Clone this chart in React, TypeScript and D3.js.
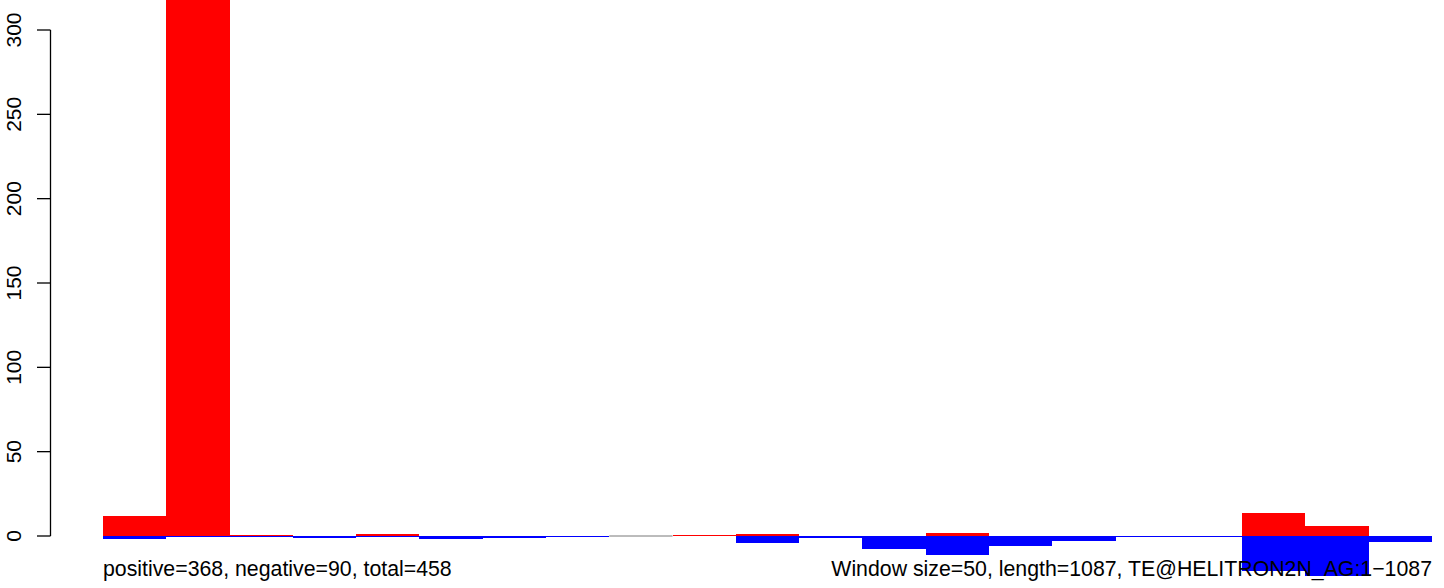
import React from "react";
import * as d3 from "d3";

const W = 1444;
const H = 588;

// 21 windows of 50 bp over a 1087 bp element
const windows = d3.range(1, 22);
const positiveValues = [12, 331, 0.6, 0, 1.3, 0, 0, 0, 0, 0.3, 1.3, 0, 0, 1.8, 0, 0, 0, 0, 13.8, 6, 0];
const negativeValues = [1.7, 0.5, 0.3, 1.2, 0.3, 1.8, 1.0, 0.5, 0, 0, 4.0, 1.0, 7.7, 11, 6, 3, 0.5, 0.5, 21, 23.5, 3.4];
const yTicks = [0, 50, 100, 150, 200, 250, 300];
const leftLabel = "positive=368, negative=90, total=458";
const rightLabel = "Window size=50, length=1087, TE@HELITRON2N_AG:1\u22121087";

export default function App() {
  const x = d3
    .scaleBand<number>()
    .domain(windows)
    .range([103, 1432])
    .paddingInner(0)
    .paddingOuter(0);
  const y = d3.scaleLinear().domain([0, 300]).range([536, 30]);
  const font = "'Liberation Sans', Arial, Helvetica, sans-serif";

  return (
    <svg
      width={W}
      height={H}
      style={{ position: "absolute", left: 0, top: 0, background: "#fff" }}
      fontFamily={font}
    >
      {/* zero-height windows drawn as hairlines */}
      {windows.map((w, i) =>
        positiveValues[i] === 0 && negativeValues[i] === 0 ? (
          <line
            key={"z" + w}
            x1={x(w)}
            x2={(x(w) as number) + x.bandwidth()}
            y1={y(0)}
            y2={y(0)}
            stroke="#555"
            strokeWidth={0.8}
          />
        ) : null
      )}
      {/* positive (red) */}
      {windows.map((w, i) => {
        const v = positiveValues[i];
        if (v === 0) return null;
        const h = Math.max(y(0) - y(v), 1);
        return (
          <rect
            key={"p" + w}
            x={x(w)}
            y={y(0) - h}
            width={x.bandwidth()}
            height={h}
            fill="#ff0000"
            shapeRendering="crispEdges"
          />
        );
      })}
      {/* negative (blue) */}
      {windows.map((w, i) => {
        const v = negativeValues[i];
        if (v === 0) return null;
        return (
          <rect
            key={"n" + w}
            x={x(w)}
            y={y(0)}
            width={x.bandwidth()}
            height={Math.max(y(-v) - y(0), 1)}
            fill="#0000ff"
            shapeRendering="crispEdges"
          />
        );
      })}
      {/* y axis */}
      <line x1={50.5} x2={50.5} y1={y(300)} y2={y(0)} stroke="#000" strokeWidth={1.3} />
      {yTicks.map((t) => (
        <g key={t}>
          <line x1={37} x2={50.5} y1={y(t)} y2={y(t)} stroke="#000" strokeWidth={1.3} />
          <text
            transform={`translate(21,${y(t)}) rotate(-90)`}
            textAnchor="middle"
            fontSize={21}
            fill="#000"
          >
            {t}
          </text>
        </g>
      ))}
      <text x={103} y={576} fontSize={21.3} fill="#000">
        {leftLabel}
      </text>
      <text x={1432} y={576} fontSize={21.3} textAnchor="end" fill="#000">
        {rightLabel}
      </text>
    </svg>
  );
}
